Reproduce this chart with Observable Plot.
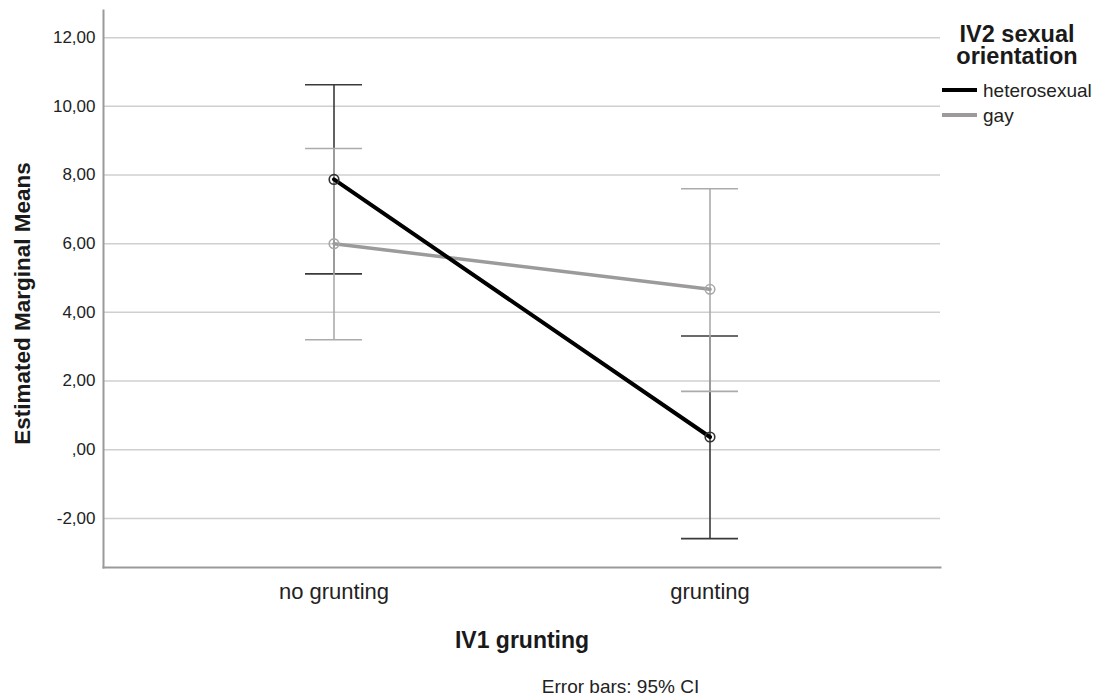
<!DOCTYPE html>
<html>
<head>
<meta charset="utf-8">
<script src="https://cdn.jsdelivr.net/npm/d3@7"></script>
<script src="https://cdn.jsdelivr.net/npm/@observablehq/plot@0.6"></script>
<style>
  html, body { margin: 0; padding: 0; background: #fff; }
  #wrap { position: relative; width: 1096px; height: 696px; font-family: "Liberation Sans", Arial, sans-serif; }
  #legend { position: absolute; left: 0; top: 0; color: #1a1a1a; }
  .lg-title { position: absolute; left: 952px; width: 130px; text-align: center; font-weight: bold; font-size: 23.5px; line-height: 22px; top: 23px; }
  .lg-item { position: absolute; left: 942px; height: 22px; }
  .lg-sw { position: absolute; left: 0; width: 35px; height: 4px; }
  .lg-tx { position: absolute; left: 41px; font-size: 19px; line-height: 22px; white-space: nowrap; color: #222; }
</style>
</head>
<body>
<div id="wrap"></div>
<script>
// ---- data ----
const categories = ["no grunting", "grunting"];
const groups = ["heterosexual", "gay"];
const heteroMean = [7.87, 0.37];
const heteroLo   = [5.12, -2.59];
const heteroHi   = [10.63, 3.31];
const gayMean    = [6.00, 4.67];
const gayLo      = [3.20, 1.70];
const gayHi      = [8.77, 7.60];
const yTicks      = [-2, 0, 2, 4, 6, 8, 10, 12];
const yTickLabels = ["-2,00", ",00", "2,00", "4,00", "6,00", "8,00", "10,00", "12,00"];
const xTitle = "IV1 grunting";
const yTitle = "Estimated Marginal Means";
const legendTitle = "IV2 sexual\norientation";
const caption = "Error bars: 95% CI";

// ---- build table ----
const series = {
  heterosexual: {mean: heteroMean, lo: heteroLo, hi: heteroHi},
  gay: {mean: gayMean, lo: gayLo, hi: gayHi}
};
const rows = groups.flatMap(g => categories.map((c, i) => ({
  group: g, cat: c, mean: series[g].mean[i], lo: series[g].lo[i], hi: series[g].hi[i]
})));
const hetero = rows.filter(d => d.group === "heterosexual");
const gay = rows.filter(d => d.group === "gay");

const lineColor = {heterosexual: "#000000", gay: "#9c9a9a"};
const barColor = {heterosexual: "#3a3a3a", gay: "#ababab"};
const dotColor = {heterosexual: "#333333", gay: "#a8a8a8"};
const fmt = d => yTickLabels[yTicks.indexOf(d)];
const capInset = 117;

const chart = Plot.plot({
  width: 1096,
  height: 696,
  marginLeft: 103,
  marginRight: 156,
  marginTop: 10,
  marginBottom: 129,
  style: {fontFamily: '"Liberation Sans", Arial, sans-serif', background: "#fff", overflow: "visible"},
  x: {type: "band", domain: categories, padding: 0.226, label: null},
  y: {domain: [-3.43, 12.79], label: null},
  marks: [
    Plot.gridY(yTicks, {stroke: "#cfcfcf", strokeOpacity: 1, strokeWidth: 1.5}),
    Plot.frame({anchor: "left", stroke: "#9a9a9a", strokeWidth: 2}),
    Plot.frame({anchor: "bottom", stroke: "#9a9a9a", strokeWidth: 2}),
    Plot.axisY({ticks: yTicks, tickFormat: fmt, tickSize: 0, tickPadding: 8, fontSize: 17, fill: "#222", label: null}),
    Plot.axisX({tickSize: 0, tickPadding: 16, fontSize: 22, fill: "#222", label: null}),
    // error bars: heterosexual then gay
    Plot.ruleX(hetero, {x: "cat", y1: "lo", y2: "hi", stroke: barColor.heterosexual, strokeWidth: 1.6}),
    Plot.tickY(hetero, {x: "cat", y: "hi", stroke: barColor.heterosexual, strokeWidth: 1.6, insetLeft: capInset, insetRight: capInset}),
    Plot.tickY(hetero, {x: "cat", y: "lo", stroke: barColor.heterosexual, strokeWidth: 1.6, insetLeft: capInset, insetRight: capInset}),
    Plot.ruleX(gay, {x: "cat", y1: "lo", y2: "hi", stroke: barColor.gay, strokeWidth: 1.6}),
    Plot.tickY(gay, {x: "cat", y: "hi", stroke: barColor.gay, strokeWidth: 1.6, insetLeft: capInset, insetRight: capInset}),
    Plot.tickY(gay, {x: "cat", y: "lo", stroke: barColor.gay, strokeWidth: 1.6, insetLeft: capInset, insetRight: capInset}),
    // lines
    Plot.line(gay, {x: "cat", y: "mean", stroke: lineColor.gay, strokeWidth: 3.5}),
    Plot.line(hetero, {x: "cat", y: "mean", stroke: lineColor.heterosexual, strokeWidth: 4}),
    Plot.dot(gay, {x: "cat", y: "mean", r: 4.8, stroke: dotColor.gay, strokeWidth: 1.6, fill: "none"}),
    Plot.dot(hetero, {x: "cat", y: "mean", r: 4.8, stroke: dotColor.heterosexual, strokeWidth: 1.6, fill: "none"}),
    // titles
    Plot.text([xTitle], {frameAnchor: "bottom", dy: 73, fontSize: 23, fontWeight: "bold", fill: "#1a1a1a", lineAnchor: "middle"}),
    Plot.text([yTitle], {frameAnchor: "left", dx: -81, dy: 14.5, rotate: -90, textAnchor: "middle", fontSize: 22.5, fontWeight: "bold", fill: "#1a1a1a", lineAnchor: "middle"}),
    Plot.text([caption], {frameAnchor: "bottom", dx: 98.5, dy: 119, fontSize: 19, fill: "#222", lineAnchor: "middle"})
  ]
});

const wrap = document.getElementById("wrap");
wrap.appendChild(chart);

// ---- legend (HTML) ----
const legend = d3.select(wrap).append("div").attr("id", "legend");
legend.append("div").attr("class", "lg-title").style("white-space", "pre").text(legendTitle);
groups.forEach((g, i) => {
  const item = legend.append("div").attr("class", "lg-item").style("top", (80 + i * 25) + "px");
  item.append("div").attr("class", "lg-sw").style("top", "8px").style("background", lineColor[g]);
  item.append("div").attr("class", "lg-tx").style("top", "0px").text(g);
});
</script>
</body>
</html>
